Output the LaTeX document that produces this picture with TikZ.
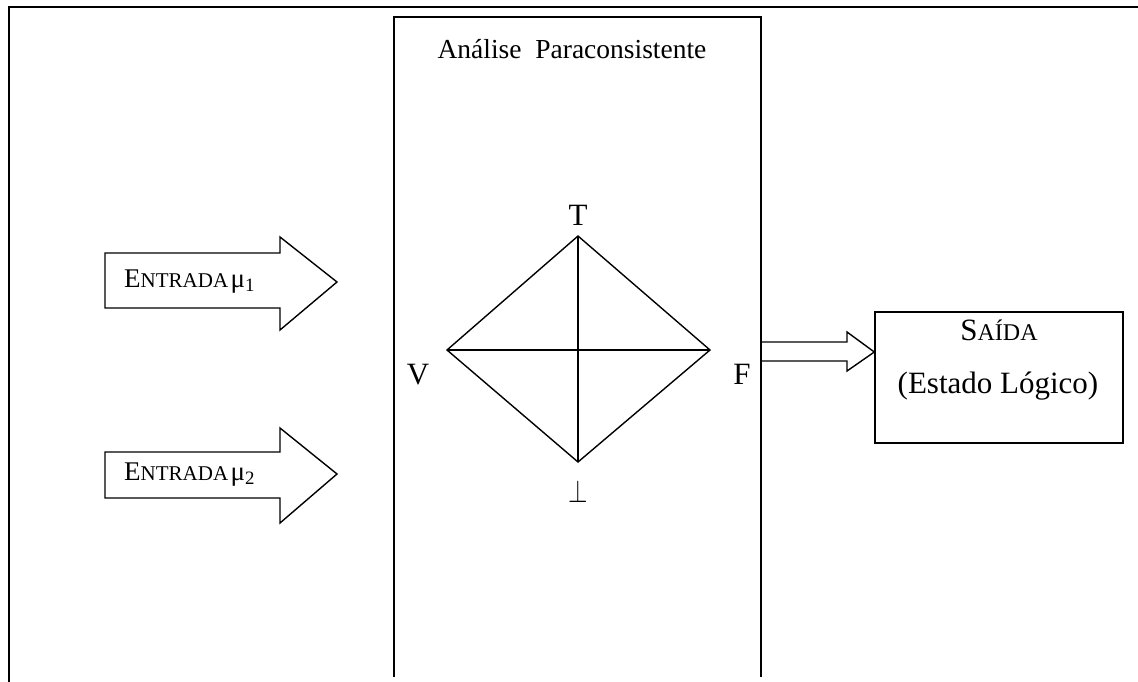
\documentclass[tikz,border=0pt]{standalone}
\usepackage{fontspec}
\setmainfont{Liberation Serif}
\tikzset{
  ln/.style={line width=1.4pt, line join=miter},
  bigarrow/.style={ln, fill=white},
  lbl/.style={font=\fontsize{31}{36}\selectfont, anchor=base, inner sep=0pt},
  entr/.style={anchor=west, inner sep=0pt},
}
\newcommand{\entrada}[1]{{\fontsize{27}{30}\selectfont E}{\fontsize{21}{24}\selectfont NTRADA} {\fontsize{27}{30}\selectfont μ\textsubscript{#1}}}
\begin{document}
\begin{tikzpicture}[x=1pt,y=-1pt]
\useasboundingbox (0,0) rectangle (1138,682);
% outer frame (top and left only)
\draw[ln] (9,682) -- (9,7) -- (1138,7);
% central panel, open at the bottom
\draw[ln] (394,677) -- (394,17) -- (761,17) -- (761,677);
\node[font=\fontsize{27.5}{32}\selectfont, anchor=base] (title) at (572,59) {Análise\ \ Paraconsistente};
% lattice diamond
\coordinate (top) at (578,236);
\coordinate (left) at (447,350);
\coordinate (right) at (710,350);
\coordinate (bot) at (578,462);
\draw[ln] (top) -- (right) -- (bot) -- (left) -- cycle;
\draw[ln] (top) -- (bot);
\draw[ln] (left) -- (right);
\node[lbl] (lT) at (578,225) {T};
\node[lbl] (lV) at (418,384) {V};
\node[lbl] (lF) at (742,384) {F};
\node[inner sep=0pt, anchor=base] (lB) at (578,502) {\scalebox{2.5}[3.2]{$\perp$}};
% input arrows
\draw[bigarrow] (105,253) -- (280,253) -- (280,237) -- (337,282) -- (280,330) -- (280,308) -- (105,308) -- cycle;
\node[entr] (e1) at (124,282) {\entrada{1}};
\draw[bigarrow] (105,452) -- (280,452) -- (280,428) -- (337,474) -- (280,523) -- (280,498) -- (105,498) -- cycle;
\node[entr] (e2) at (124,475) {\entrada{2}};
% output box
\node[draw, ln, minimum width=248pt, minimum height=131pt, inner sep=0pt] (saida) at (999,377.5) {};
\node[font=\fontsize{31}{36}\selectfont, anchor=base, inner sep=0pt] (s1) at (999,340) {S{\fontsize{24}{28}\selectfont AÍDA}};
\node[font=\fontsize{31}{36}\selectfont, anchor=base, inner sep=0pt] (s2) at (998,393) {(Estado Lógico)};
% output arrow
\coordinate (o1) at (761,342);
\coordinate (o2) at (761,361);
\draw[ln] (o1) -- (847,342) -- (847,332) -- (saida.west |- 0,352) -- (847,371) -- (847,361) -- (o2);
\end{tikzpicture}
\end{document}
